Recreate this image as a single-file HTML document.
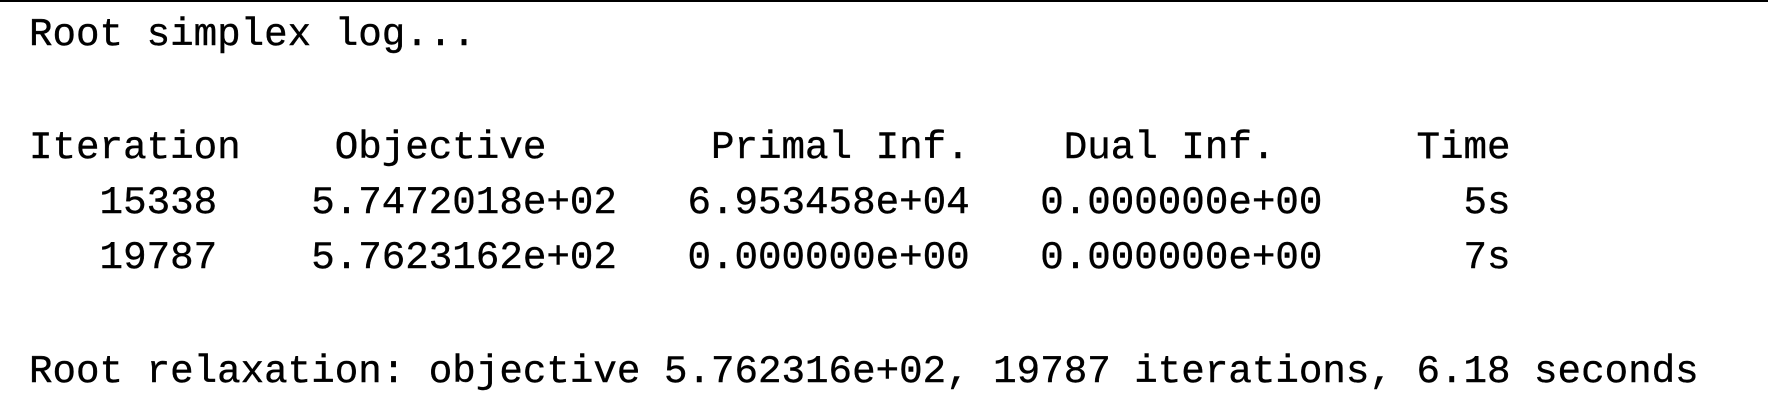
<!DOCTYPE html>
<html>
<head>
<meta charset="utf-8">
<style>
html,body{margin:0;padding:0;background:#fff;}
body{width:1768px;height:402px;overflow:hidden;position:relative;}
#top-border{position:absolute;left:0;top:0;width:1768px;height:2px;background:#000;}
svg{position:absolute;left:0;top:0;}
text{font-family:"Liberation Mono","DejaVu Sans Mono",monospace;font-size:39.2px;fill:#000;white-space:pre;stroke:#000;stroke-width:0.4px;}
</style>
</head>
<body>
<div id="top-border"></div>
<svg width="1768" height="402">
<text x="29" y="45" xml:space="preserve">Root simplex log...</text>
<text x="29" y="158" xml:space="preserve">Iteration    Objective       Primal Inf.    Dual Inf.      Time</text>
<text x="29" y="213" xml:space="preserve">   15338    5.7472018e+02   6.953458e+04   0.000000e+00      5s</text>
<text x="29" y="268" xml:space="preserve">   19787    5.7623162e+02   0.000000e+00   0.000000e+00      7s</text>
<text x="29" y="382" xml:space="preserve">Root relaxation: objective 5.762316e+02, 19787 iterations, 6.18 seconds</text>
</svg>
</body>
</html>
